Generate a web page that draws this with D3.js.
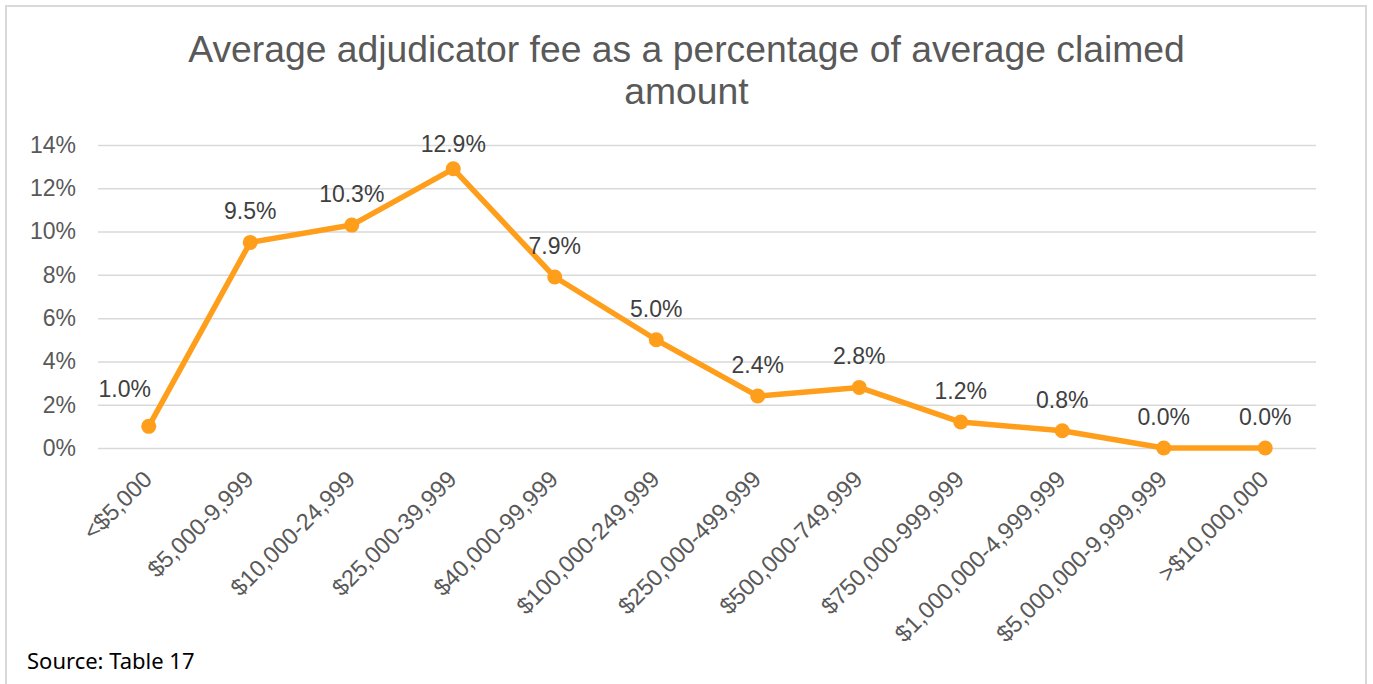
<!DOCTYPE html>
<html><head><meta charset="utf-8">
<script src="https://cdn.jsdelivr.net/npm/d3@7"></script>
<style>html,body{margin:0;padding:0;background:#fff;}svg{display:block;}</style>
</head><body>
<script>
const categories = ["<$5,000","$5,000-9,999","$10,000-24,999","$25,000-39,999","$40,000-99,999","$100,000-249,999","$250,000-499,999","$500,000-749,999","$750,000-999,999","$1,000,000-4,999,999","$5,000,000-9,999,999",">$10,000,000"];
const values = [0.010,0.095,0.103,0.129,0.079,0.050,0.024,0.028,0.012,0.008,0.000,0.000];
const yTicks = [0,0.02,0.04,0.06,0.08,0.10,0.12,0.14];
const titleLines = ["Average adjudicator fee as a percentage of average claimed","amount"];
const sourceText = "Source: Table 17";

(function(){
const W = 1373, H = 684;
const svg = d3.select("body").append("svg").attr("width", W).attr("height", H);
svg.append("rect").attr("x",6).attr("y",6).attr("width",1360).attr("height",H+10)
  .attr("fill","#fff").attr("stroke","#d9d9d9").attr("stroke-width",2);

const pL = 98, pR = 1316, pT = 145, pB = 448;
const x = d3.scaleBand().domain(categories).range([pL,pR]);
const y = d3.scaleLinear().domain([0,0.14]).range([pB,pT]);
const fam = "'Liberation Sans', Arial, sans-serif";

// title
svg.append("text").attr("x",686.5).attr("y",62).attr("text-anchor","middle")
  .attr("font-family",fam).attr("font-size",37.3).attr("fill","#595959")
  .selectAll("tspan").data(titleLines).join("tspan")
  .attr("x",686.5).attr("dy",(d,i)=>i?42:0).text(d=>d);

// grid + y axis
const yAxis = d3.axisLeft(y).tickValues(yTicks).tickFormat(d3.format(".0%"))
  .tickSize(-(pR-pL)).tickPadding(22);
const gy = svg.append("g").attr("transform",`translate(${pL},0)`).call(yAxis);
gy.select(".domain").remove();
gy.selectAll(".tick line").attr("stroke","#d9d9d9").attr("stroke-width",1.5);
gy.selectAll(".tick text").attr("font-family",fam).attr("font-size",23).attr("fill","#595959");

// x axis labels
const xAxis = d3.axisBottom(x).tickSize(0).tickPadding(0);
const gx = svg.append("g").attr("transform",`translate(0,${pB})`).call(xAxis);
gx.select(".domain").remove();
gx.selectAll(".tick text").attr("font-family",fam).attr("font-size",23.5).attr("fill","#595959")
  .attr("text-anchor","end").attr("y",0).attr("dy","0.35em")
  .attr("transform","translate(-1,27) rotate(-45)");

// line
const cx = d => x(d) + x.bandwidth()/2;
const line = d3.line().x((d,i)=>cx(categories[i])).y(d=>y(d));
svg.append("path").datum(values).attr("d",line).attr("fill","none")
  .attr("stroke","#FF9E1B").attr("stroke-width",5.5).attr("stroke-linejoin","round");
svg.selectAll("circle.pt").data(values).join("circle").attr("class","pt")
  .attr("cx",(d,i)=>cx(categories[i])).attr("cy",d=>y(d)).attr("r",7.5).attr("fill","#FF9E1B");

// data labels
svg.selectAll("text.lbl").data(values).join("text").attr("class","lbl")
  .attr("x",(d,i)=>cx(categories[i]) - (i===0?24:0))
  .attr("y",(d,i)=>{ let c = y(d) - (i===0?37:31); c = Math.max(c,144); return c; })
  .attr("dy","0.35em").attr("text-anchor","middle")
  .attr("font-family",fam).attr("font-size",23).attr("fill","#404040")
  .text(d=>d3.format(".1%")(d));

// source
svg.append("text").attr("x",27).attr("y",669).attr("font-family","'Noto Sans', sans-serif")
  .attr("font-size",22).attr("fill","#000").text(sourceText);
})();
</script>
</body></html>
